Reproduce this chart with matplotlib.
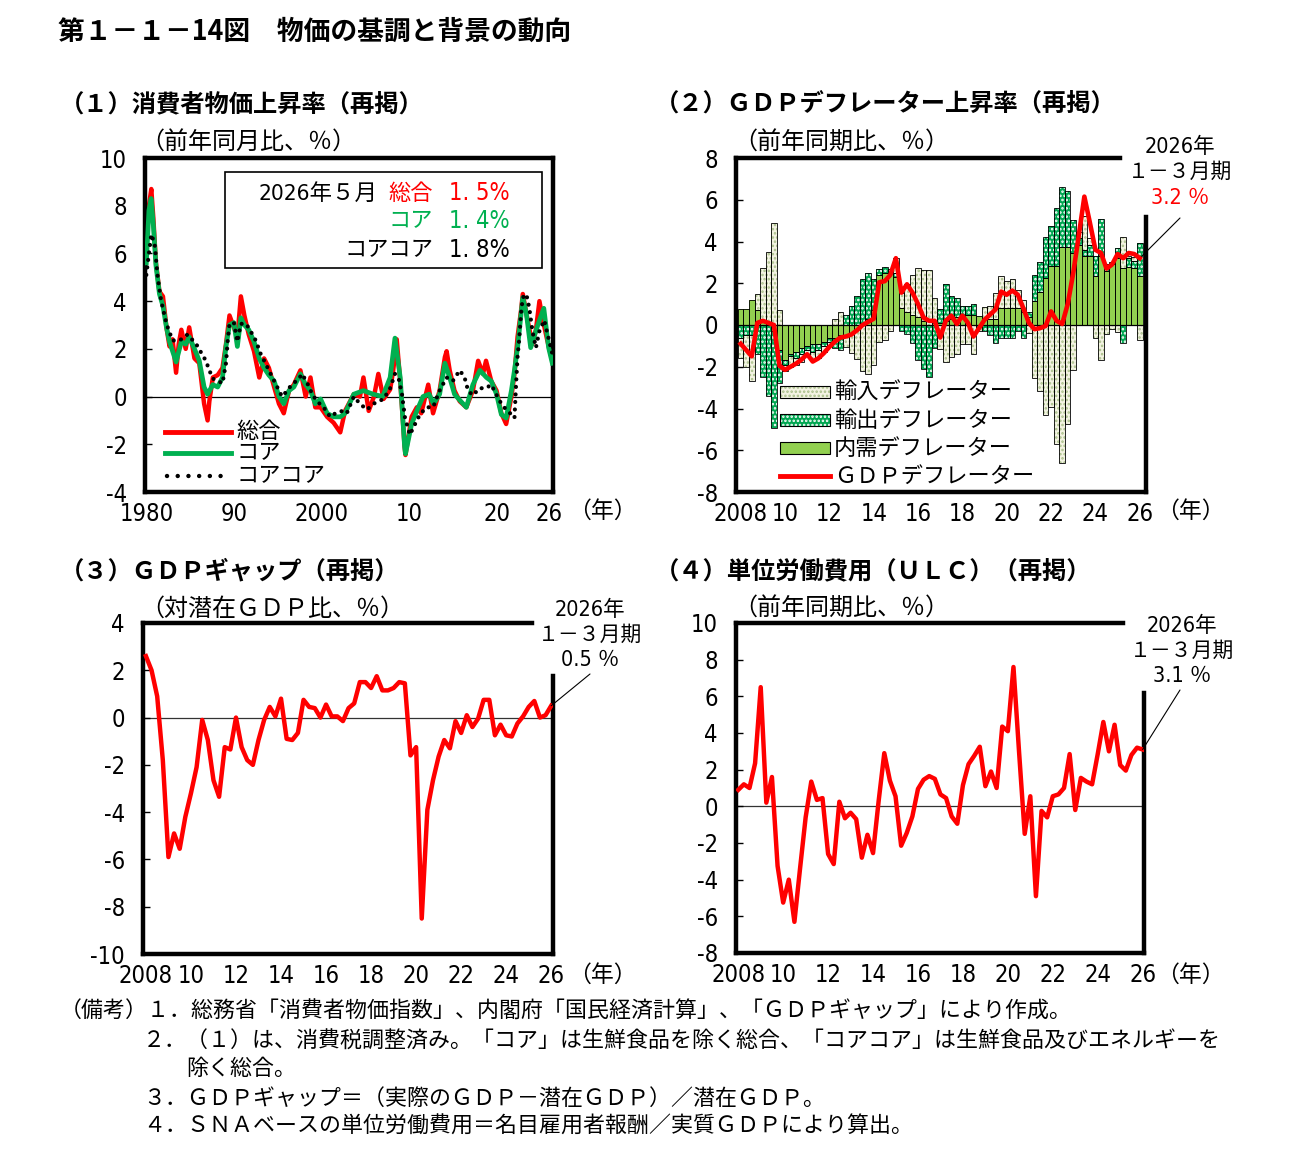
import numpy as np
import matplotlib
matplotlib.use('Agg')
import matplotlib.pyplot as plt
from matplotlib import font_manager
from matplotlib.patches import Rectangle

W, H = 1292, 1162

JP = 'Noto Sans CJK JP'

# narrow face for the numbers, if there is one
NUM, NUM_STRETCH, NUM_SIZE = JP, 'normal', 15.5
_fonts = font_manager.fontManager.ttflist
if any(f.name == 'Liberation Sans Narrow' for f in _fonts):
    NUM, NUM_STRETCH, NUM_SIZE = 'Liberation Sans Narrow', 'normal', 17
else:
    for fam in ['Noto Sans', 'Open Sans', 'Roboto', 'DejaVu Sans']:
        cond = [f for f in _fonts if f.name == fam and f.style == 'normal'
                and f.stretch in ('condensed', 'extra-condensed', 'semi-condensed')
                and f.weight in (400, 'normal', 'regular')]
        if cond:
            NUM, NUM_STRETCH, NUM_SIZE = fam, cond[0].stretch, 17
            break

plt.rcParams['font.family'] = [JP, 'DejaVu Sans']
plt.rcParams['axes.unicode_minus'] = False
plt.rcParams['hatch.linewidth'] = 1.2

RED = '#FF0000'
GREEN = '#00B050'

#
# (1) CPI, monthly
#
sogo_t = [1980.0, 1980.3, 1980.57, 1980.8, 1981.1, 1981.5, 1981.9, 1982.3, 1982.65, 1983.0,
          1983.4, 1983.7, 1984.0, 1984.5, 1984.9, 1985.5, 1986.05, 1986.6, 1987.0, 1987.2,
          1987.6, 1988.15, 1988.7, 1989.1, 1989.5, 1990.0, 1990.4, 1990.8, 1991.2, 1991.7,
          1992.3, 1992.9, 1993.45, 1994.0, 1994.6, 1995.15, 1995.7, 1996.3, 1996.85, 1997.6,
          1998.2, 1998.75, 1999.3, 1999.9, 2000.65, 2001.4, 2002.15, 2002.7, 2003.7, 2004.4,
          2004.8, 2005.4, 2006.0, 2006.5, 2007.1, 2007.85, 2008.2, 2008.6, 2009.0, 2009.5,
          2009.6, 2010.3, 2010.9, 2011.4, 2012.2, 2012.75, 2013.5, 2014.1, 2014.3, 2014.65,
          2015.2, 2015.8, 2016.55, 2017.3, 2017.9, 2018.45, 2018.8, 2019.4, 2020.0, 2020.55,
          2021.1, 2021.7, 2022.05, 2022.4, 2022.8, 2023.0, 2023.55, 2024.1, 2024.5, 2024.9,
          2025.3, 2025.8, 2026.37]
sogo = [6.2, 8.0, 8.7, 7.5, 5.6, 4.4, 4.2, 2.9, 2.1, 2.4,
        1.0, 2.2, 2.8, 2.0, 2.9, 1.6, 1.4, -0.3, -1.0, -0.2,
        0.8, 0.9, 1.2, 2.2, 3.4, 2.9, 2.5, 4.2, 3.4, 2.6,
        1.9, 0.8, 1.6, 1.2, 0.4, -0.3, -0.7, 0.25, 0.5, 1.1,
        0.0, 0.8, -0.45, -0.45, -0.85, -1.1, -1.5, -0.6, 0.1, 0.0,
        0.8, -0.6, 0.0, 0.95, -0.1, 0.3, 1.1, 2.4, 0.65, -2.1,
        -2.45, -0.85, -0.45, -0.7, 0.5, -0.7, 0.25, 1.65, 1.9, 1.1,
        0.25, -0.2, -0.45, 0.25, 1.5, 0.95, 1.5, 0.65, 0.25, -0.7,
        -1.15, 0.0, 0.95, 2.5, 3.6, 4.3, 3.2, 2.2, 2.8, 4.0,
        3.2, 2.35, 1.5]

core_t = [1980.0, 1980.3, 1980.55, 1980.8, 1981.1, 1981.5, 1981.9, 1982.3, 1982.65, 1983.4,
          1984.0, 1984.5, 1984.9, 1985.5, 1986.05, 1986.6, 1987.0, 1987.6, 1988.15, 1988.7,
          1989.1, 1989.5, 1990.0, 1990.4, 1990.8, 1991.2, 1991.7, 1992.3, 1992.9, 1993.45,
          1994.0, 1994.6, 1995.15, 1995.7, 1996.3, 1996.85, 1997.6, 1998.2, 1998.75, 1999.3,
          1999.9, 2000.65, 2001.4, 2002.15, 2002.7, 2003.7, 2004.8, 2005.9, 2007.0, 2007.85,
          2008.4, 2009.0, 2009.5, 2009.6, 2010.3, 2010.9, 2011.6, 2012.3, 2012.8, 2013.5,
          2014.1, 2014.65, 2015.2, 2015.8, 2016.55, 2017.3, 2018.1, 2018.85, 2019.4, 2020.0,
          2020.55, 2021.1, 2021.7, 2022.05, 2022.4, 2023.0, 2023.4, 2023.9, 2024.5, 2024.9,
          2025.4, 2025.95, 2026.37]
core = [5.6, 7.8, 8.3, 7.2, 5.5, 4.3, 3.8, 2.9, 2.3, 1.45,
        2.3, 2.2, 2.5, 2.0, 1.5, 0.4, 0.1, 0.5, 0.4, 0.8,
        2.1, 3.0, 3.1, 2.1, 3.3, 3.0, 2.8, 2.3, 1.6, 1.2,
        0.9, 0.65, 0.0, -0.3, 0.25, 0.4, 0.95, 0.5, 0.25, -0.3,
        -0.1, -0.7, -0.85, -0.85, -0.7, 0.1, 0.25, 0.1, 0.0, 0.8,
        2.45, 0.8, -2.1, -2.4, -1.15, -0.6, 0.0, 0.1, -0.3, 0.1,
        1.4, 0.8, 0.1, -0.15, -0.45, 0.5, 1.1, 0.8, 0.65, 0.1,
        -0.75, -0.9, 0.25, 1.1, 2.05, 4.15, 3.5, 2.05, 2.75, 3.2,
        3.7, 2.05, 1.4]

coacore_t = [1980.0, 1980.57, 1980.95, 1981.3, 1981.7, 1982.3, 1983.0, 1983.8, 1984.7, 1985.7,
             1986.25, 1986.8, 1987.2, 1987.6, 1988.15, 1988.7, 1989.1, 1989.3, 1989.5, 1990.0,
             1990.4, 1990.8, 1991.4, 1991.9, 1992.5, 1993.05, 1993.6, 1994.2, 1994.95, 1995.5,
             1996.1, 1996.7, 1997.25, 1997.8, 1998.4, 1998.95, 1999.5, 2000.25, 2001.0, 2001.8,
             2002.5, 2002.9, 2003.7, 2004.4, 2005.2, 2005.95, 2007.1, 2007.85, 2008.4, 2008.8,
             2009.2, 2009.55, 2010.1, 2010.7, 2011.25, 2012.0, 2012.75, 2013.5, 2014.3, 2015.0,
             2015.8, 2016.35, 2016.75, 2017.3, 2018.05, 2018.8, 2019.4, 2019.95, 2020.55, 2021.1,
             2021.7, 2022.05, 2022.25, 2022.4, 2022.6, 2022.8, 2023.0, 2023.4, 2023.75, 2024.1,
             2024.5, 2024.9, 2025.45, 2026.0, 2026.37]
coacore = [5.1, 6.8, 6.4, 5.0, 4.0, 3.05, 2.35, 2.35, 2.6, 2.2,
           1.85, 1.5, 1.1, 0.75, 0.67, 0.55, 1.4, 2.35, 3.05, 3.1,
           2.3, 3.05, 3.05, 2.75, 2.35, 1.8, 1.4, 0.95, 0.4, 0.0,
           0.25, 0.55, 0.67, 0.95, 0.55, 0.1, -0.2, -0.45, -0.85, -0.65,
           -0.6, -0.7, 0.0, -0.3, -0.55, -0.3, -0.1, 0.35, 0.95, 0.8,
           0.1, -0.9, -1.6, -1.15, -0.75, -0.45, -0.45, 0.25, 0.8, 0.65,
           1.1, 0.8, 0.25, 0.05, 0.35, 0.35, 0.5, 0.1, -0.3, -0.55,
           -0.75, -0.9, 0.65, 1.65, 2.45, 3.5, 4.15, 4.3, 3.7, 2.75,
           2.05, 2.75, 3.2, 2.35, 1.8]

#
# (2)-(4) quarterly, 2008Q1 - 2026Q1
#
quarters = 2008 + 0.25 * np.arange(73)

gdp_defl = [-0.9, -1.2, -1.5, 0.1, 0.2, 0.1, 0.0, -1.95, -2.15, -2.0,
            -1.85, -1.65, -1.4, -1.75, -1.6, -1.35, -1.05, -0.8, -0.6, -0.55,
            -0.45, -0.25, 0.0, 0.15, 0.3, 2.05, 2.1, 2.4, 3.2, 1.55,
            1.95, 1.55, 1.0, 0.35, 0.2, 0.2, -0.6, 0.2, 0.45, 0.05,
            0.45, 0.1, -0.55, -0.15, 0.25, 0.5, 0.75, 1.6, 1.45, 1.65,
            1.45, 0.8, 0.1, -0.2, -0.15, -0.05, 0.65, 0.2, 0.05, 1.0,
            2.5, 4.3, 6.15, 4.9, 3.6, 3.45, 2.7, 2.9, 3.4, 3.2,
            3.45, 3.4, 3.2]
dom_defl = [0.75, 0.75, 1.2, 0.7, 0.2, 0.05, -0.3, -1.2, -1.7, -1.4,
            -1.3, -1.1, -1.0, -0.9, -0.9, -0.8, -0.6, -0.6, -0.5, -0.5,
            -0.4, -0.2, 0.1, 0.3, 0.7, 2.4, 2.5, 2.5, 2.3, 0.8,
            0.6, 0.5, 0.4, 0.2, 0.0, 0.1, 0.1, 0.2, 0.3, 0.4,
            0.4, 0.5, 0.5, 0.45, 0.3, 0.3, 0.3, 0.8, 0.8, 0.8,
            0.8, 0.6, 0.4, 1.15, 1.6, 2.25, 2.85, 2.85, 3.75, 3.75,
            3.45, 3.85, 3.3, 3.3, 2.35, 3.3, 2.6, 2.9, 3.2, 2.75,
            2.8, 2.75, 2.35]
exp_defl = [-0.6, -0.5, -0.5, -1.4, -2.5, -3.4, -4.65, -1.6, -0.2, -0.1,
            -0.3, -0.3, -0.2, -0.4, -0.3, -0.2, -0.2, -0.5, -0.7, 0.5,
            0.9, 1.4, 2.1, 2.2, 1.5, 0.3, 0.3, 0.2, 0.2, -0.3,
            -0.45, -0.85, -1.7, -2.1, -2.5, -1.1, 0.65, 1.75, 1.1, 0.9,
            0.5, 0.4, 0.5, -0.1, -0.3, -0.5, -0.85, -0.6, -0.6, -0.6,
            -0.3, -0.6, 0.2, 1.25, 1.4, 1.95, 1.9, 2.75, 2.85, 2.65,
            1.6, 0.3, 0.3, 0.55, 0.95, 1.8, 0.3, 0.1, 0.5, -0.85,
            0.4, 0.3, 1.6]
imp_defl = [-1.0, -1.5, -2.2, 0.8, 2.55, 3.45, 4.9, 0.7, -0.3, -0.5,
            -0.3, -0.35, -0.2, -0.4, -0.4, -0.3, -0.2, 0.3, 0.6, -0.55,
            -0.95, -1.45, -2.2, -2.35, -1.9, -0.8, -0.7, -0.3, 0.7, 0.75,
            1.35, 1.9, 2.35, 2.45, 2.65, 1.2, -1.15, -1.75, -1.55, -1.4,
            -0.9, -0.9, -1.4, -0.2, 0.55, 0.6, 1.25, 1.55, 1.3, 1.4,
            0.9, 0.6, -0.4, -2.55, -3.15, -4.3, -3.95, -5.7, -6.6, -4.75,
            -2.15, 0.3, 1.6, 0.3, -0.6, -1.7, -0.45, -0.2, -0.35, 1.45,
            0.1, 0.2, -0.7]

gdp_gap = [2.6, 2.0, 0.9, -1.8, -5.9, -4.9, -5.55, -4.2, -3.2, -2.1,
           -0.1, -0.95, -2.65, -3.35, -1.25, -1.35, 0.0, -1.25, -1.8, -2.0,
           -0.95, -0.1, 0.45, 0.05, 0.8, -0.9, -0.95, -0.65, 0.75, 0.45,
           0.4, 0.0, 0.55, 0.05, 0.05, -0.15, 0.4, 0.6, 1.5, 1.5,
           1.25, 1.75, 1.15, 1.15, 1.25, 1.5, 1.45, -1.6, -1.25, -8.5,
           -3.9, -2.65, -1.65, -0.95, -1.3, -0.15, -0.65, 0.1, -0.4, -0.05,
           0.75, 0.75, -0.75, -0.3, -0.75, -0.8, -0.25, 0.05, 0.45, 0.7,
           0.0, 0.1, 0.5]

ulc = [0.9, 1.2, 1.0, 2.35, 6.5, 0.2, 1.6, -3.25, -5.25, -4.0,
       -6.3, -3.4, -0.6, 1.35, 0.35, 0.45, -2.6, -3.15, 0.25, -0.65,
       -0.35, -0.7, -2.8, -1.55, -2.55, 0.3, 2.9, 1.4, 0.55, -2.15,
       -1.45, -0.55, 0.95, 1.45, 1.65, 1.5, 0.65, 0.45, -0.55, -0.95,
       1.15, 2.3, 2.75, 3.25, 1.1, 1.9, 1.0, 4.35, 4.1, 7.6,
       2.95, -1.5, 0.55, -4.9, -0.25, -0.6, 0.55, 0.65, 1.0, 2.85,
       -0.2, 1.55, 1.35, 1.2, 2.85, 4.6, 3.0, 4.45, 2.25, 1.95,
       2.8, 3.2, 3.1]

q_ticks = list(range(2008, 2027, 2))
q_labels = ['2008'] + [str(y)[2:] for y in q_ticks[1:]]


def fy(y):
    return 1 - y / H


def ftext(x, y, s, **kw):
    kw.setdefault('va', 'center')
    return fig.text(x / W, fy(y), s, **kw)


def ntext(x, y, s, size_add=0, **kw):
    # text whose digits use the narrow face
    return ftext(x, y, s, family=[NUM, JP], fontstretch=NUM_STRETCH,
                 fontsize=NUM_SIZE + size_add, **kw)


def frame(ax, top_end=1.0, right_top=1.0):
    for s in ax.spines.values():
        s.set_linewidth(3.2)
        s.set_color('black')
    if top_end < 1.0:
        ax.spines['top'].set_visible(False)
        ax.spines['right'].set_visible(False)
        ax.plot([0, top_end], [1, 1], transform=ax.transAxes, color='black',
                lw=3.2, clip_on=False, solid_capstyle='projecting')
        ax.plot([1, 1], [0, right_top], transform=ax.transAxes, color='black',
                lw=3.2, clip_on=False, solid_capstyle='projecting')


def ticks(ax, xt, xl, yt):
    ax.set_xticks(xt)
    ax.set_xticklabels(xl, fontfamily=NUM, fontstretch=NUM_STRETCH, fontsize=NUM_SIZE)
    ax.set_yticks(yt)
    ax.set_yticklabels([str(v) for v in yt], fontfamily=NUM, fontstretch=NUM_STRETCH,
                       fontsize=NUM_SIZE)
    ax.tick_params(axis='y', direction='in', length=5, width=1, pad=13)
    ax.tick_params(axis='x', length=0, pad=7)


fig = plt.figure(figsize=(W / 100, H / 100), dpi=100)

# Titles
ftext(58, 32, '第１－１－14図　物価の基調と背景の動向', fontsize=19.3, fontweight='bold')
ftext(60, 104, '（１）消費者物価上昇率（再掲）', fontsize=17.5, fontweight='bold')
ftext(655, 104, '（２）ＧＤＰデフレーター上昇率（再掲）', fontsize=17.5, fontweight='bold')
ftext(60, 571, '（３）ＧＤＰギャップ（再掲）', fontsize=17.5, fontweight='bold')
ftext(655, 571, '（４）単位労働費用（ＵＬＣ）（再掲）', fontsize=17.5, fontweight='bold')
ftext(140, 143, '（前年同月比、％）', fontsize=17.3)
ftext(733, 143, '（前年同期比、％）', fontsize=17.3)
ftext(140, 609, '（対潜在ＧＤＰ比、％）', fontsize=17.3)
ftext(733, 609, '（前年同期比、％）', fontsize=17.3)

#
# (1) CPI
#
ax1 = fig.add_axes([145 / W, fy(492), 408 / W, 334 / H])
ax1.axhline(0, color='black', lw=0.9, zorder=1)
ax1.plot(sogo_t, sogo, color=RED, lw=3.2, zorder=2)
ax1.plot(core_t, core, color=GREEN, lw=3.4, zorder=3)
ax1.plot(coacore_t, coacore, color='black', lw=3.0, linestyle=(0, (0.01, 1.8)),
         dash_capstyle='round', zorder=4)
ax1.set_xlim(1979.85, 2026.45)
ax1.set_ylim(-4, 10)
ticks(ax1, [1980, 1990, 2000, 2010, 2020, 2026],
      ['1980', '90', '2000', '10', '20', '26'], list(range(-4, 11, 2)))
frame(ax1)
ftext(568, 511, '（年）', fontsize=16.5)

# info box
ax1.add_patch(Rectangle((0.196, 0.671), 0.777, 0.287, transform=ax1.transAxes,
                        fill=False, edgecolor='black', lw=1.2, zorder=5))
ntext(258, 193, '2026年５月', size_add=-0.8)
ftext(433, 193, '総合', fontsize=16, color=RED, ha='right')
ntext(510, 193, '1. 5%', color=RED, ha='right')
ftext(433, 221, 'コア', fontsize=16, color=GREEN, ha='right')
ntext(510, 221, '1. 4%', color=GREEN, ha='right')
ftext(433, 250, 'コアコア', fontsize=16, color='black', ha='right')
ntext(510, 250, '1. 8%', color='black', ha='right')

# legend
leg_y = [(492 - 432) / 334, (492 - 453) / 334, (492 - 476) / 334]
ax1.plot([0.05, 0.21], [leg_y[0]] * 2, transform=ax1.transAxes, color=RED, lw=3.5)
ax1.plot([0.05, 0.21], [leg_y[1]] * 2, transform=ax1.transAxes, color=GREEN, lw=3.5)
ax1.plot([0.055, 0.21], [leg_y[2]] * 2, transform=ax1.transAxes, color='black', lw=3.2,
         linestyle=(0, (0.01, 2.4)), dash_capstyle='round')
ftext(236, 432, '総合', fontsize=16)
ftext(236, 453, 'コア', fontsize=16)
ftext(236, 476, 'コアコア', fontsize=16)

#
# (2) GDP deflator
#
ax2 = fig.add_axes([736 / W, fy(492), 410 / W, 334 / H])
components = [
    (dom_defl, '#92D050', None, None),
    (exp_defl, '#00A651', '....', 'white'),
    (imp_defl, '#F3F3E2', '....', '#A9BF8A'),
]
pos = np.zeros(len(quarters))
neg = np.zeros(len(quarters))
for vals, fc, hatch, hc in components:
    v = np.array(vals)
    bottom = np.where(v >= 0, pos, neg)
    if hatch:
        ax2.bar(quarters, v, 0.25, bottom=bottom, facecolor=fc, edgecolor=hc,
                hatch=hatch, lw=0, zorder=2)
    else:
        ax2.bar(quarters, v, 0.25, bottom=bottom, facecolor=fc, lw=0, zorder=2)
    ax2.bar(quarters, v, 0.25, bottom=bottom, facecolor='none', edgecolor='black',
            lw=0.6, zorder=3)
    pos += np.clip(v, 0, None)
    neg += np.clip(v, None, 0)
ax2.axhline(0, color='black', lw=0.9, zorder=3)
ax2.plot(quarters, gdp_defl, color=RED, lw=3.3, zorder=5)
ax2.set_xlim(2007.79, 2026.28)
ax2.set_ylim(-8, 8)
ticks(ax2, q_ticks, q_labels, list(range(-8, 9, 2)))
frame(ax2, top_end=0.937, right_top=0.823)
ftext(1156, 511, '（年）', fontsize=16.5)

# legend of panel 2
legend_items = [
    ('輸入デフレーター', '#F3F3E2', '....', '#A9BF8A', 392),
    ('輸出デフレーター', '#00A651', '....', 'white', 420),
    ('内需デフレーター', '#92D050', None, None, 448),
]
for label, fc, hatch, hc, yp in legend_items:
    yc = (492 - yp) / 334
    if hatch:
        ax2.add_patch(Rectangle((0.107, yc - 0.018), 0.122, 0.036, transform=ax2.transAxes,
                                facecolor=fc, edgecolor=hc, hatch=hatch, lw=0, zorder=6))
    else:
        ax2.add_patch(Rectangle((0.107, yc - 0.018), 0.122, 0.036, transform=ax2.transAxes,
                                facecolor=fc, lw=0, zorder=6))
    ax2.add_patch(Rectangle((0.107, yc - 0.018), 0.122, 0.036, transform=ax2.transAxes,
                            facecolor='none', edgecolor='black', lw=0.8, zorder=7))
    ftext(834, yp, label, fontsize=16)
ax2.plot([0.107, 0.229], [(492 - 476) / 334] * 2, transform=ax2.transAxes,
         color=RED, lw=3.5, zorder=7)
ftext(834, 476, 'ＧＤＰデフレーター', fontsize=16)

ntext(1180, 147, '2026年', size_add=-1.5, ha='center')
ftext(1180, 172, '１－３月期', fontsize=15, ha='center')
ntext(1180, 198, '3.2 ％', size_add=-1.5, ha='center', color=RED)
ax2.annotate('', xy=(quarters[-1], gdp_defl[-1]), xytext=(1180, H - 218),
             textcoords='figure pixels',
             arrowprops=dict(arrowstyle='-', color='black', lw=0.8, shrinkA=0, shrinkB=0))

#
# (3) GDP gap
#
ax3 = fig.add_axes([143 / W, fy(954), 410 / W, 331 / H])
ax3.axhline(0, color='#333333', lw=0.9, zorder=1)
ax3.plot(quarters, gdp_gap, color=RED, lw=3.2, zorder=3)
ax3.set_xlim(2007.87, 2026.08)
ax3.set_ylim(-10, 4)
ticks(ax3, q_ticks, q_labels, list(range(-10, 5, 2)))
frame(ax3, top_end=0.949, right_top=0.84)
ftext(568, 975, '（年）', fontsize=16.5)
ntext(590, 610, '2026年', size_add=-1.5, ha='center')
ftext(590, 635, '１－３月期', fontsize=15, ha='center')
ntext(590, 660, '0.5 ％', size_add=-1.5, ha='center')
ax3.annotate('', xy=(quarters[-1], gdp_gap[-1]), xytext=(590, H - 674),
             textcoords='figure pixels',
             arrowprops=dict(arrowstyle='-', color='black', lw=0.8, shrinkA=0, shrinkB=0))

#
# (4) ULC
#
ax4 = fig.add_axes([736 / W, fy(953), 408 / W, 330 / H])
ax4.axhline(0, color='#333333', lw=0.9, zorder=1)
ax4.plot(quarters, ulc, color=RED, lw=3.2, zorder=3)
ax4.set_xlim(2007.9, 2026.06)
ax4.set_ylim(-8, 10)
ticks(ax4, q_ticks, q_labels, list(range(-8, 11, 2)))
frame(ax4, top_end=0.949, right_top=0.788)
ftext(1156, 975, '（年）', fontsize=16.5)
ntext(1182, 626, '2026年', size_add=-1.5, ha='center')
ftext(1182, 651, '１－３月期', fontsize=15, ha='center')
ntext(1182, 676, '3.1 ％', size_add=-1.5, ha='center')
ax4.annotate('', xy=(quarters[-1], ulc[-1]), xytext=(1180, H - 690),
             textcoords='figure pixels',
             arrowprops=dict(arrowstyle='-', color='black', lw=0.8, shrinkA=0, shrinkB=0))

#
# Notes
#
NOTE = 15.8
ftext(60, 1012, '（備考）１．総務省「消費者物価指数」、内閣府「国民経済計算」、「ＧＤＰギャップ」により作成。',
      fontsize=NOTE)
ftext(143, 1042, '２．（１）は、消費税調整済み。「コア」は生鮮食品を除く総合、「コアコア」は生鮮食品及びエネルギーを',
      fontsize=NOTE)
ftext(186, 1069, '除く総合。', fontsize=NOTE)
ftext(143, 1099, '３．ＧＤＰギャップ＝（実際のＧＤＰ－潜在ＧＤＰ）／潜在ＧＤＰ。', fontsize=NOTE)
ftext(143, 1127, '４．ＳＮＡベースの単位労働費用＝名目雇用者報酬／実質ＧＤＰにより算出。', fontsize=NOTE)

fig.savefig('out.png', dpi=100, facecolor='white')
